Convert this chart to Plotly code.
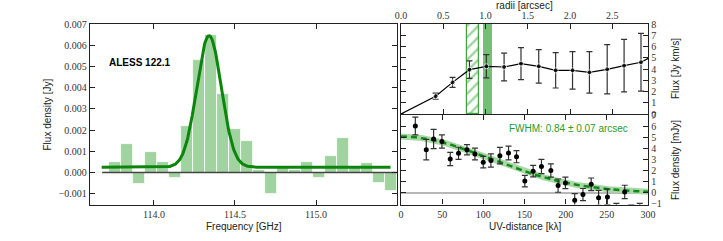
import numpy as np
import plotly.graph_objects as go

# ---------------- data ----------------
# Left panel: spectrum (channel frequency in GHz, flux density in Jy)
freq_ghz = [113.687, 113.761, 113.835, 113.909, 113.983, 114.057, 114.130, 114.204,
            114.278, 114.352, 114.426, 114.500, 114.574, 114.648, 114.722, 114.796,
            114.870, 114.943, 115.017, 115.091, 115.165, 115.239, 115.313, 115.387,
            115.461]
flux_jy = [0.00003, 0.00049, 0.00135, -0.00052, 0.00096, 0.00052, -0.00024, 0.00220,
           0.00531, 0.00646, 0.00371, 0.00203, 0.00148, 0.00014, -0.00101, 0.00020,
           0.00010, 0.00049, -0.00027, 0.00079, 0.00164, 0.00020, 0.00047, -0.00050,
           -0.00085]
chan_width = 0.0739
# Gaussian line fit parameters
fit_base = 0.00025
fit_amp = 0.0062
fit_center = 114.34
fit_sigma = 0.076
fit_xmin, fit_xmax = 113.677, 115.46

# Top-right: curve of growth
radii = [0.0, 0.41, 0.61, 0.81, 1.01, 1.22, 1.42, 1.63, 1.83, 2.03, 2.23, 2.44, 2.64, 2.84, 3.04]
flux_cog = [0.0, 1.58, 2.81, 3.94, 4.24, 4.18, 4.48, 4.24, 3.88, 3.88, 3.70, 3.97, 4.30, 4.60, 5.40]
flux_cog_err = [0.0, 0.27, 0.45, 0.78, 1.03, 1.24, 1.42, 1.49, 1.57, 1.67, 1.84, 2.19, 2.33, 2.57, 2.80]
hatch_range = [0.776, 0.925]
solid_range = [0.966, 1.072]

# Bottom-right: uv amplitudes
uv_dist = [17.4, 30.7, 39.6, 49.7, 59.8, 69.9, 80.1, 89.8, 99.9, 109.2, 120.1, 130.6, 140.3,
           150.4, 160.5, 170.6, 182.0, 190.8, 199.7, 211.0, 221.0, 231.0, 240.0, 250.7,
           261.6, 271.7, 279.8, 290.0]
uv_amp = [6.06, 3.91, 4.87, 4.66, 3.07, 3.58, 3.91, 3.52, 2.78, 2.93, 3.37, 3.61, 3.28,
          1.07, 1.97, 2.39, 2.03, 0.66, 0.90, -0.66, -0.15, 0.78, -0.45, -0.36,
          -1.55, 0.09, -1.60, -1.55]
uv_err = [0.80, 0.93, 0.87, 0.60, 0.60, 0.55, 0.46, 0.54, 0.52, 0.60, 0.75, 0.63, 0.55,
          0.52, 0.52, 0.64, 0.60, 0.60, 0.52, 0.60, 0.55, 0.57, 0.67, 0.70,
          0.60, 0.60, 0.55, 0.60]
uv_fit_amp = 5.1
uv_fit_sigma = 108.0
fwhm_text = "FWHM: 0.84 ± 0.07 arcsec"

# ---------------- styling ----------------
W, H = 723, 241
BAR_GREEN = '#a0d3a0'
LINE_GREEN = '#0b850b'
FRAME = '#222222'
TICKFONT = dict(family='Liberation Serif', size=10, color='#333333')
TITLEFONT = dict(family='Liberation Sans', size=10, color='#222222')

def px_x(p):
    return p / W

def px_y(p):
    return (H - p) / H

fig = go.Figure()

# Left panel bars
fig.add_trace(go.Bar(x=freq_ghz, y=flux_jy, width=chan_width,
                     marker=dict(color=BAR_GREEN, line=dict(color='white', width=0.8)),
                     xaxis='x', yaxis='y', showlegend=False))
# zero line
fig.add_trace(go.Scatter(x=[113.68, 115.5], y=[0, 0], mode='lines',
                         line=dict(color='#444444', width=1.5),
                         xaxis='x', yaxis='y', showlegend=False))
# Gaussian fit
fx = np.linspace(fit_xmin, fit_xmax, 400)
fy = fit_base + fit_amp * np.exp(-(fx - fit_center) ** 2 / (2 * fit_sigma ** 2))
fig.add_trace(go.Scatter(x=fx, y=fy, mode='lines', line=dict(color=LINE_GREEN, width=3),
                         xaxis='x', yaxis='y', showlegend=False))

# Top-right: hatched and solid regions
fig.add_trace(go.Bar(x=[(hatch_range[0] + hatch_range[1]) / 2], y=[8], base=[0],
                     width=[hatch_range[1] - hatch_range[0]],
                     marker=dict(color='rgba(255,255,255,0)',
                                 line=dict(color='#3fa63f', width=1.2),
                                 pattern=dict(shape='/', fgcolor='#3fa63f', bgcolor='white',
                                              size=8, solidity=0.3)),
                     xaxis='x2', yaxis='y2', showlegend=False))
fig.add_trace(go.Bar(x=[(solid_range[0] + solid_range[1]) / 2], y=[8], base=[0],
                     width=[solid_range[1] - solid_range[0]],
                     marker=dict(color='#72c072', line=dict(width=0)),
                     xaxis='x2', yaxis='y2', showlegend=False))
fig.add_trace(go.Scatter(x=radii, y=flux_cog, mode='lines+markers',
                         line=dict(color='black', width=1.2),
                         marker=dict(color='black', size=[0] + [5] * (len(radii) - 1)),
                         error_y=dict(type='data', array=flux_cog_err, color='#333333',
                                      thickness=1.2, width=3),
                         xaxis='x2', yaxis='y2', showlegend=False))

# Bottom-right
fig.add_trace(go.Scatter(x=[0, 300], y=[0, 0], mode='lines',
                         line=dict(color='#a0a0a0', width=1.5),
                         xaxis='x3', yaxis='y3', showlegend=False))
ux = np.linspace(0, 300, 300)
uy = uv_fit_amp * np.exp(-ux ** 2 / (2 * uv_fit_sigma ** 2))
fig.add_trace(go.Scatter(x=ux, y=uy, mode='lines', line=dict(color='#a8d8a4', width=6),
                         xaxis='x3', yaxis='y3', showlegend=False))
fig.add_trace(go.Scatter(x=ux, y=uy, mode='lines',
                         line=dict(color='#12881a', width=2.5, dash='6px,4px'),
                         xaxis='x3', yaxis='y3', showlegend=False))
fig.add_trace(go.Scatter(x=uv_dist, y=uv_amp, mode='markers',
                         marker=dict(color='black', size=5),
                         error_y=dict(type='data', array=uv_err, color='#333333',
                                      thickness=1.2, width=3),
                         xaxis='x3', yaxis='y3', showlegend=False))

axis_common = dict(showline=True, linecolor=FRAME, linewidth=1.3, mirror='ticks',
                   ticks='inside', ticklen=5, tickwidth=1.2, tickcolor=FRAME,
                   showgrid=False, zeroline=False, tickfont=TICKFONT, automargin=False)

dom_left_x = [px_x(90), px_x(397)]
dom_right_x = [px_x(401), px_x(648)]

fig.update_layout(
    width=W, height=H, margin=dict(l=0, r=0, t=0, b=0, pad=0, autoexpand=False),
    paper_bgcolor='white', plot_bgcolor='white', barmode='overlay', bargap=0,
    xaxis=dict(domain=dom_left_x, range=[113.605, 115.5], tickvals=[114.0, 114.5, 115.0],
               ticktext=['114.0', '114.5', '115.0'], anchor='y', **axis_common),
    yaxis=dict(domain=[px_y(205), px_y(24)], range=[-0.00153, 0.007], dtick=0.001,
               tickformat='.3f', anchor='x', **axis_common),
    xaxis2=dict(domain=dom_right_x, range=[0, 2.923], dtick=0.5, tickformat='.1f',
                side='top', anchor='y2', **axis_common),
    yaxis2=dict(domain=[px_y(114), px_y(24)], range=[0, 8], dtick=1, side='right',
                anchor='x2', **axis_common),
    xaxis3=dict(domain=dom_right_x, range=[0, 300], dtick=50, anchor='y3', **axis_common),
    yaxis3=dict(domain=[px_y(204.5), px_y(115)], range=[-1.05, 7.05], dtick=1,
                side='right', anchor='x3', **axis_common),
)

ann = [
    dict(text='Flux density [Jy]', x=px_x(47), y=px_y(114.5), textangle=-90),
    dict(text='Frequency [GHz]', x=px_x(243.5), y=px_y(226)),
    dict(text='UV-distance [kλ]', x=px_x(524.5), y=px_y(226.5)),
    dict(text='radii [arcsec]', x=px_x(524.5), y=px_y(5)),
    dict(text='Flux [Jy km/s]', x=px_x(675), y=px_y(69), textangle=-90),
    dict(text='Flux density [mJy]', x=px_x(675), y=px_y(160), textangle=-90),
]
for a in ann:
    fig.add_annotation(xref='paper', yref='paper', showarrow=False, font=TITLEFONT,
                       xanchor='center', yanchor='middle', **a)
fig.add_annotation(xref='paper', yref='paper', showarrow=False, text='<b>ALESS 122.1</b>',
                   x=px_x(107), y=px_y(63), xanchor='left', yanchor='middle',
                   font=dict(family='Liberation Sans', size=10, color='black'))
fig.add_annotation(xref='paper', yref='paper', showarrow=False, text=fwhm_text,
                   x=px_x(630), y=px_y(128), xanchor='right', yanchor='middle',
                   font=dict(family='Liberation Sans', size=10, color='#2a9a2a'))

fig.write_html('out.html', config={'displayModeBar': False},
               post_script="document.body.style.margin='0px';")
